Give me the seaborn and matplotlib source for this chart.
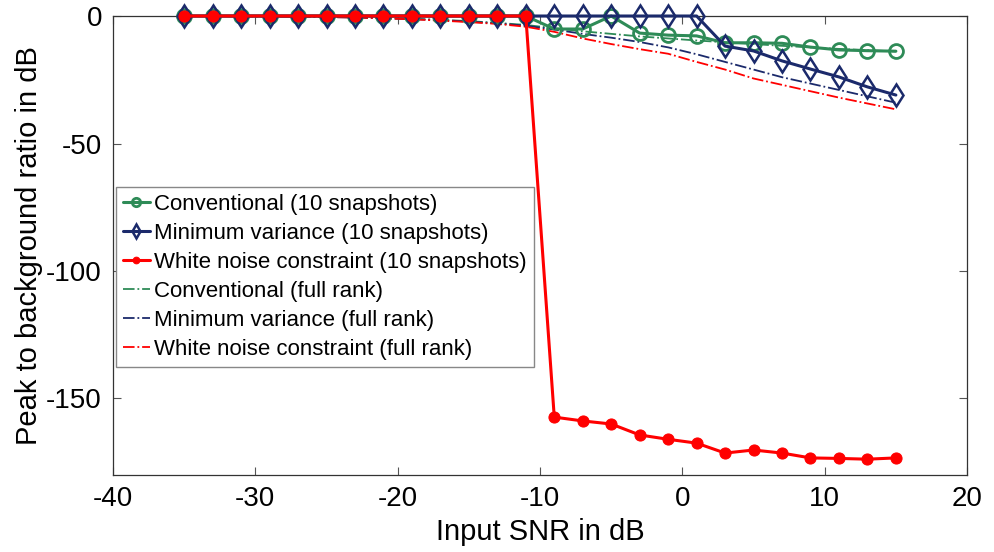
import numpy as np
import pandas as pd
import matplotlib
matplotlib.use("Agg")
import matplotlib.pyplot as plt
import seaborn as sns

# Input SNR values (dB)
snr = [-35, -33, -31, -29, -27, -25, -23, -21, -19, -17, -15, -13, -11,
       -9, -7, -5, -3, -1, 1, 3, 5, 7, 9, 11, 13, 15]

# 10 snapshots
conv_10 = [0, 0, 0, 0, 0, 0, 0, 0, 0, 0, 0, 0, 0,
           -5.1, -5.1, 0, -6.7, -7.5, -7.8, -10.5, -10.5, -10.7, -12.2, -13.3, -13.6, -13.8]
mv_10 = [0, 0, 0, 0, 0, 0, 0, 0, 0, 0, 0, 0, 0,
         0, 0, 0, 0, 0, 0, -11.8, -13.7, -17.6, -20.8, -23.9, -27.8, -31.0]
wnc_10 = [0, 0, 0, 0, 0, 0, 0, 0, 0, 0, 0, 0, 0,
          -157.3, -158.8, -160.0, -164.3, -166.0, -167.5, -171.4, -170.2, -171.4,
          -173.3, -173.5, -173.8, -173.3]

# full rank
conv_full = [0, 0, -0.1, -0.1, -0.2, -0.3, -0.5, -0.8, -1.1, -1.5, -2.0, -2.7, -3.5,
             -4.8, -6.0, -7.0, -8.0, -8.8, -9.6, -10.3, -11.0, -11.7, -12.3, -12.9, -13.4, -13.9]
mv_full = [0, 0, -0.1, -0.1, -0.2, -0.4, -0.6, -0.9, -1.2, -1.6, -2.2, -2.9, -3.8,
           -5.3, -7.0, -8.5, -10.2, -12.3, -15.0, -18.0, -21.0, -24.0, -26.5, -29.0, -31.5, -34.0]
wnc_full = [0, 0, -0.1, -0.1, -0.2, -0.4, -0.6, -0.9, -1.3, -1.8, -2.4, -3.1, -4.2,
            -6.2, -8.8, -11.0, -13.0, -14.8, -18.0, -21.0, -24.5, -27.0, -29.5, -32.0, -34.3, -36.6]

labels = ["Conventional (10 snapshots)", "Minimum variance (10 snapshots)",
          "White noise constraint (10 snapshots)", "Conventional (full rank)",
          "Minimum variance (full rank)", "White noise constraint (full rank)"]

green = "#2e8b57"
navy = "#1b2a6b"
red = "#ff0000"

sns.set_style("ticks")
plt.rcParams["font.family"] = ["Liberation Sans", "DejaVu Sans"]
plt.rcParams["axes.unicode_minus"] = False
plt.rcParams["text.color"] = "black"
plt.rcParams["axes.labelcolor"] = "black"
plt.rcParams["xtick.labelcolor"] = "black"
plt.rcParams["ytick.labelcolor"] = "black"

fig = plt.figure(figsize=(9.95, 5.52), dpi=100)
ax = fig.add_axes([0.1136, 0.1395, 0.8583, 0.8315])

# snapshot curves
sns.lineplot(x=snr, y=conv_10, ax=ax, color=green, lw=2.2, marker="o", markersize=10,
             markerfacecolor="none", markeredgecolor=green, markeredgewidth=2.0,
             label=labels[0], clip_on=False, zorder=3)
sns.lineplot(x=snr, y=mv_10, ax=ax, color=navy, lw=2.2, marker="d", markersize=11.5,
             markerfacecolor="none", markeredgecolor=navy, markeredgewidth=1.8,
             label=labels[1], clip_on=False, zorder=4)
sns.lineplot(x=snr, y=wnc_10, ax=ax, color=red, lw=2.2, marker="o", markersize=8,
             markerfacecolor=red, markeredgecolor=red,
             label=labels[2], clip_on=False, zorder=5)

# full rank curves
sns.lineplot(x=snr, y=conv_full, ax=ax, color=green, lw=1.3, linestyle="-.",
             label=labels[3], zorder=2)
sns.lineplot(x=snr, y=mv_full, ax=ax, color=navy, lw=1.3, linestyle="-.",
             label=labels[4], zorder=2)
sns.lineplot(x=snr, y=wnc_full, ax=ax, color=red, lw=1.3, linestyle="-.",
             label=labels[5], zorder=2)

ax.set_xlim(-40, 20)
ax.set_ylim(-180, 0)
ax.set_xticks([-40, -30, -20, -10, 0, 10, 20])
ax.set_yticks([-150, -100, -50, 0])
ax.tick_params(direction="in", top=True, right=True, length=6, width=0.8,
               labelsize=20, color="#555555", pad=8)
for s in ax.spines.values():
    s.set_linewidth(0.9)
    s.set_color("#333333")

ax.set_xlabel("Input SNR in dB", fontsize=21, labelpad=4)
ax.set_ylabel("Peak to background ratio in dB", fontsize=21, labelpad=2)

leg = ax.legend(loc="upper left", bbox_to_anchor=(0.004, 0.627), fontsize=16,
                frameon=True, fancybox=False, edgecolor="#888888", framealpha=1,
                handlelength=1.2, handletextpad=0.2, labelspacing=0.36,
                borderpad=0.3, borderaxespad=0, markerscale=0.6)
leg.get_frame().set_linewidth(1.0)

fig.savefig("out.png", dpi=100)
